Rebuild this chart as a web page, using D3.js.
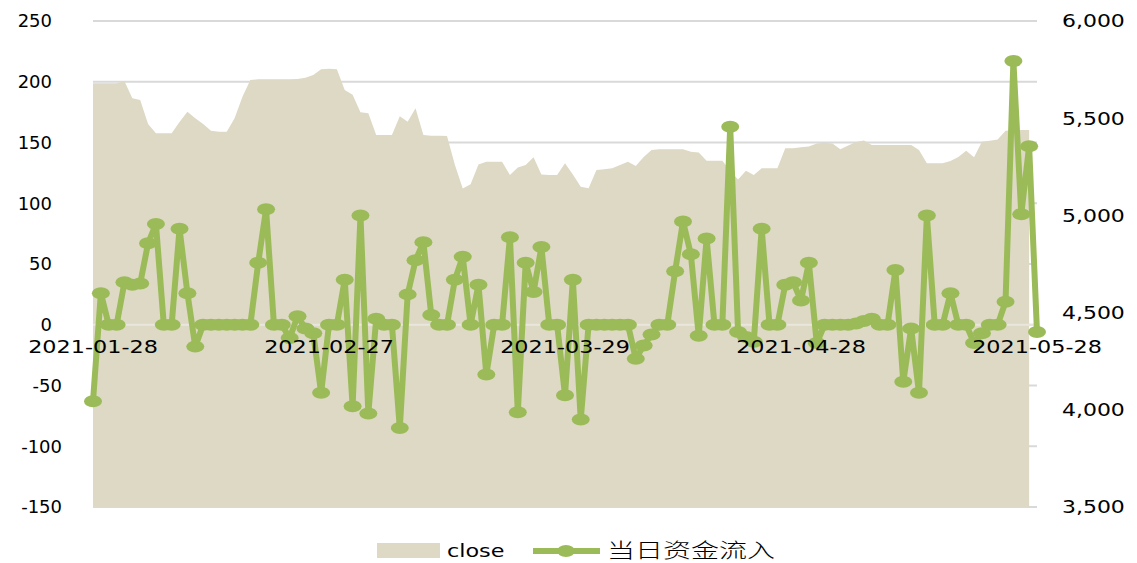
<!DOCTYPE html>
<html>
<head>
<meta charset="utf-8">
<script src="https://cdn.jsdelivr.net/npm/d3@7"></script>
<style>
  body { margin: 0; background: #fff; }
  text { font-family: "DejaVu Sans", Verdana, sans-serif; fill: #000; }
</style>
</head>
<body>
<svg id="chart" width="1137" height="563"></svg>
<script>
// daily categories, 2021-01-28 .. 2021-05-28
const fmt = d3.timeFormat("%Y-%m-%d");
const dates = d3.timeDay.range(new Date(2021, 0, 28), new Date(2021, 4, 29)).map(fmt);

const tickDates = ["2021-01-28", "2021-02-27", "2021-03-29", "2021-04-28", "2021-05-28"];
const leftTicks = [250, 200, 150, 100, 50, 0, -50, -100, -150];
const rightTicks = [6000, 5500, 5000, 4500, 4000, 3500];

// close (right axis), last day missing
const closeVals = [
  5680, 5680, 5680, 5680, 5690, 5602, 5594, 5470, 5422, 5422,
  5422, 5480, 5533, 5500, 5470, 5435, 5430, 5430, 5500, 5610,
  5697, 5700, 5700, 5700, 5700, 5700, 5702, 5708, 5722, 5752,
  5755, 5752, 5645, 5620, 5530, 5525, 5414, 5414, 5414, 5510,
  5482, 5551, 5414, 5410, 5410, 5408, 5260, 5139, 5160, 5262,
  5276, 5276, 5276, 5208, 5247, 5259, 5299, 5210, 5208, 5208,
  5268, 5210, 5148, 5140, 5234, 5238, 5242, 5259, 5276, 5254,
  5300, 5336, 5340, 5340, 5340, 5340, 5328, 5323, 5281, 5281,
  5281, 5230, 5185, 5230, 5208, 5242, 5242, 5242, 5345, 5345,
  5350, 5355, 5370, 5374, 5370, 5340, 5360, 5378, 5385, 5362,
  5362, 5362, 5362, 5362, 5362, 5336, 5268, 5268, 5268, 5280,
  5300, 5333, 5299, 5379, 5384, 5390, 5435, 5439, 5439, 5439
];

// 当日资金流入 (left axis)
const inflowVals = [
  -63, 26, 0, 0, 35, 33, 34, 67, 83, 0,
  0, 79, 26, -18, 0, 0, 0, 0, 0, 0,
  0, 51, 95, 0, 0, -11, 7, -3, -7, -56,
  0, 0, 37, -67, 90, -73, 5, 0, 0, -85,
  25, 53, 68, 8, 0, 0, 37, 56, 0, 33,
  -41, 0, 0, 72, -72, 51, 27, 64, 0, 0,
  -58, 37, -78, 0, 0, 0, 0, 0, 0, -28,
  -17, -8, 0, 0, 44, 85, 58, -9, 71, 0,
  0, 163, -6, -10, -14, 79, 0, 0, 33, 35,
  20, 51, -15, 0, 0, 0, 0, 1, 3, 5,
  0, 0, 45, -47, -3, -56, 90, 0, 0, 26,
  0, 0, -15, -7, 0, 0, 19, 217, 91, 147,
  -6
];

const svg = d3.select("#chart");
const plotL = 93, plotR = 1037, plotT = 21, plotB = 507;

const x = d3.scalePoint().domain(dates).range([plotL, plotR]);
const yL = d3.scaleLinear().domain([-150, 250]).range([plotB, plotT]);
const yR = d3.scaleLinear().domain([3500, 6000]).range([plotB, plotT]);

// gridlines (behind the area)
svg.append("g")
  .selectAll("line")
  .data(leftTicks)
  .join("line")
  .attr("x1", plotL)
  .attr("x2", plotR)
  .attr("y1", d => yL(d))
  .attr("y2", d => yL(d))
  .attr("stroke", "#d9d9d9")
  .attr("stroke-width", 2);

// close area
const closeData = closeVals.map((v, i) => ({ d: dates[i], v: v }));
svg.append("path")
  .datum(closeData)
  .attr("fill", "#ddd9c4")
  .attr("d", d3.area()
    .x(d => x(d.d))
    .y0(yR(3500))
    .y1(d => yR(d.v)));

// category axis line at zero
svg.append("line")
  .attr("x1", plotL)
  .attr("x2", plotR)
  .attr("y1", yL(0))
  .attr("y2", yL(0))
  .attr("stroke", "#e9e7dd")
  .attr("stroke-width", 2);

// inflow line + markers
const flowData = inflowVals.map((v, i) => ({ d: dates[i], v: v }));
svg.append("path")
  .datum(flowData)
  .attr("fill", "none")
  .attr("stroke", "#9bbb59")
  .attr("stroke-width", 6)
  .attr("stroke-linejoin", "round")
  .attr("d", d3.line().x(d => x(d.d)).y(d => yL(d.v)));

svg.append("g")
  .selectAll("ellipse")
  .data(flowData)
  .join("ellipse")
  .attr("cx", d => x(d.d))
  .attr("cy", d => yL(d.v))
  .attr("rx", 9)
  .attr("ry", 6)
  .attr("fill", "#9bbb59");

// left axis labels
svg.append("g")
  .selectAll("text")
  .data(leftTicks)
  .join("text")
  .attr("x", d => (d < 0 ? 62 : 52))
  .attr("y", d => yL(d))
  .attr("dy", "0.36em")
  .attr("text-anchor", "end")
  .attr("font-size", "18px")
  .text(d => d);

// right axis labels
svg.append("g")
  .selectAll("text")
  .data(rightTicks)
  .join("text")
  .attr("transform", d => `translate(1062,${yR(d)}) scale(1.22,1)`)
  .attr("dy", "0.36em")
  .attr("font-size", "18px")
  .text(d => d3.format(",")(d));

// date labels, sitting on the zero line
svg.append("g")
  .selectAll("text")
  .data(tickDates)
  .join("text")
  .attr("transform", d => `translate(${x(d)},${yL(0) + 28}) scale(1.24,1)`)
  .attr("text-anchor", "middle")
  .attr("font-size", "18px")
  .text(d => d);

// legend
const lg = svg.append("g");
lg.append("rect")
  .attr("x", 377).attr("y", 543)
  .attr("width", 63).attr("height", 15)
  .attr("fill", "#ddd9c4");
lg.append("text")
  .attr("transform", "translate(447,557) scale(1.24,1)")
  .attr("font-size", "18px")
  .text("close");
lg.append("line")
  .attr("x1", 533).attr("x2", 600)
  .attr("y1", 551).attr("y2", 551)
  .attr("stroke", "#9bbb59")
  .attr("stroke-width", 6);
lg.append("ellipse")
  .attr("cx", 566).attr("cy", 551)
  .attr("rx", 9).attr("ry", 6)
  .attr("fill", "#9bbb59");
lg.append("text")
  .attr("transform", "translate(607,558) scale(1.4,1)")
  .attr("font-size", "20px")
  .style("font-family", "'Noto Sans CJK SC', sans-serif")
  .style("font-weight", "300")
  .text("当日资金流入");
</script>
</body>
</html>
